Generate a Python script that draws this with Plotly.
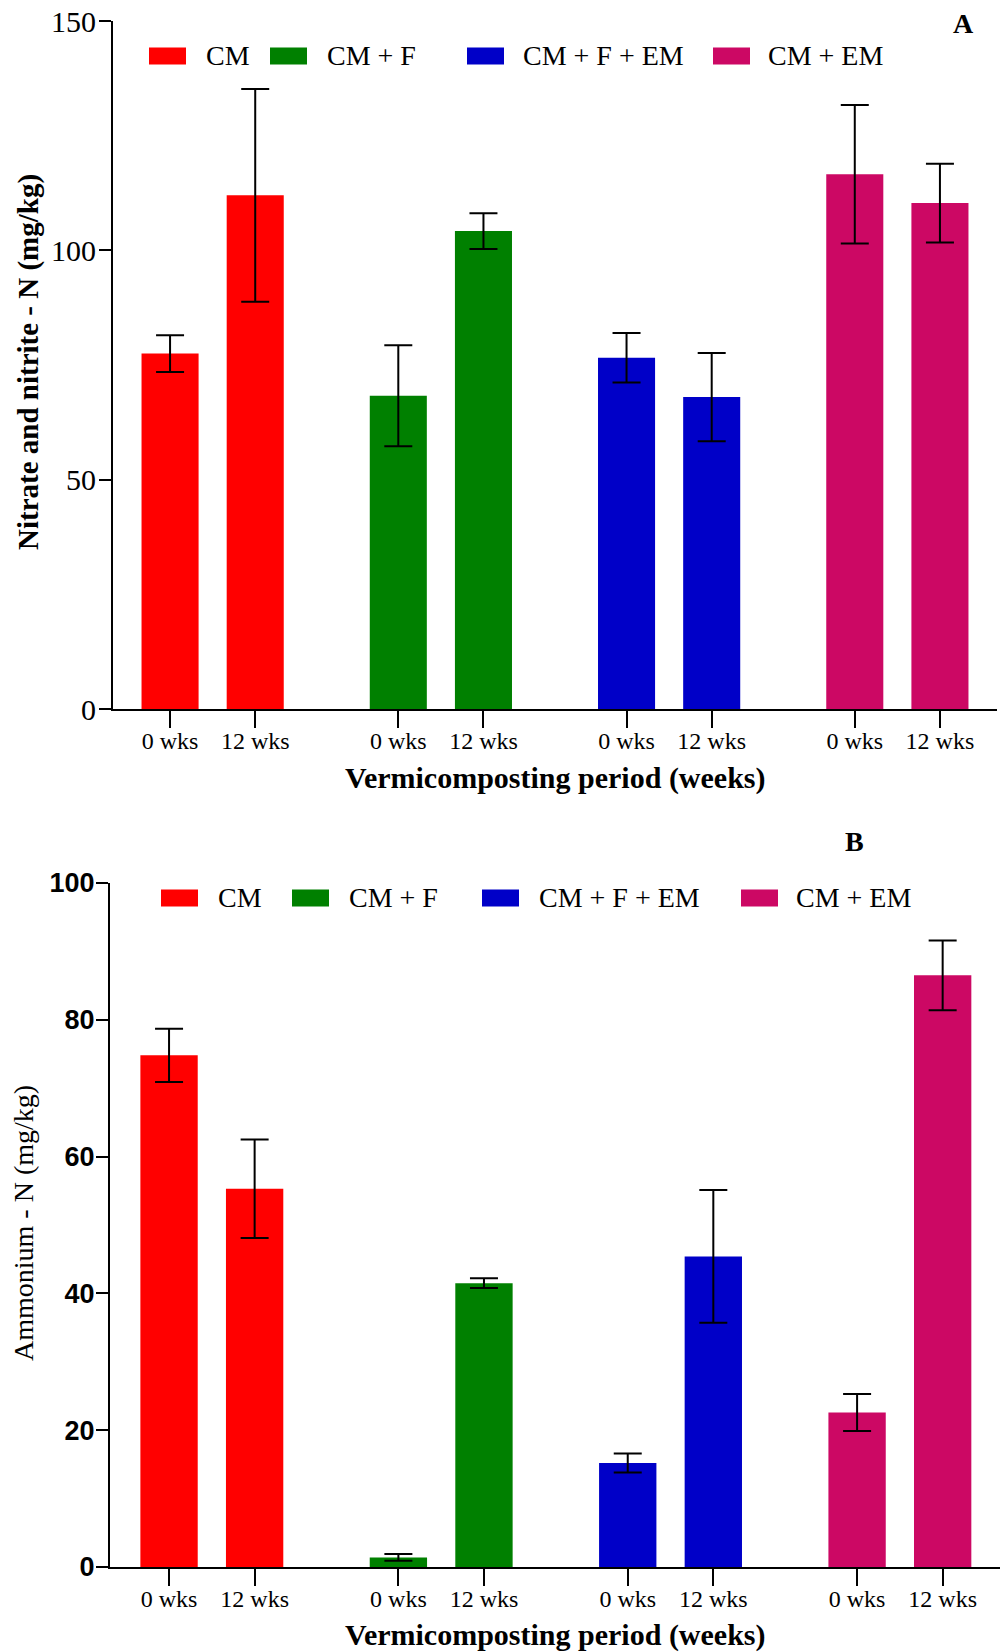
import plotly.graph_objects as go

# ---------------- data ----------------
treatments = ["CM", "CM + F", "CM + F + EM", "CM + EM"]
periods = ["0 wks", "12 wks"]
colors = ["#FF0000", "#008000", "#0000C8", "#CC0864"]

# Panel A: Nitrate and nitrite - N (mg/kg), per treatment [0 wks, 12 wks]
nitrate_mean = {
    "CM": [77.5, 112.0],
    "CM + F": [68.3, 104.2],
    "CM + F + EM": [76.6, 68.0],
    "CM + EM": [116.6, 110.3],
}
nitrate_err = {
    "CM": [4.0, 23.2],
    "CM + F": [11.0, 3.9],
    "CM + F + EM": [5.4, 9.6],
    "CM + EM": [15.1, 8.6],
}

# Panel B: Ammonium - N (mg/kg)
ammonium_mean = {
    "CM": [74.8, 55.3],
    "CM + F": [1.4, 41.5],
    "CM + F + EM": [15.2, 45.4],
    "CM + EM": [22.6, 86.5],
}
ammonium_err = {
    "CM": [3.9, 7.2],
    "CM + F": [0.5, 0.7],
    "CM + F + EM": [1.4, 9.7],
    "CM + EM": [2.7, 5.1],
}

W, H = 1008, 1652
OFF = 8  # page body margin
GROUP_STEP = 2.68
BAR_W = 0.67

def xpos(g, k):
    return g * GROUP_STEP + k

tickvals = [xpos(g, k) for g in range(len(treatments)) for k in range(len(periods))]
ticktext = [p for _ in treatments for p in periods]

fig = go.Figure()

for panel, (means, errs) in enumerate([(nitrate_mean, nitrate_err), (ammonium_mean, ammonium_err)]):
    xa = "x" if panel == 0 else "x2"
    ya = "y" if panel == 0 else "y2"
    for g, t in enumerate(treatments):
        fig.add_trace(go.Bar(
            x=[xpos(g, k) for k in range(len(periods))],
            y=means[t],
            width=BAR_W,
            marker=dict(color=colors[g], line=dict(width=0)),
            error_y=dict(type="data", array=errs[t], visible=True,
                         color="black", thickness=2, width=14),
            name=t, showlegend=False, xaxis=xa, yaxis=ya,
        ))

def px(x):
    return (x - OFF) / W

def py(y):
    return 1 - (y - OFF) / H

serif = "Liberation Serif, Times New Roman, serif"
sans = "Liberation Sans, Arial, sans-serif"

common_x = dict(
    tickmode="array", tickvals=tickvals, ticktext=ticktext,
    showline=True, linecolor="black", linewidth=2,
    ticks="outside", ticklen=17, tickwidth=2, tickcolor="black",
    showgrid=False, zeroline=False, automargin=False,
    ticklabelstandoff=-8, ticklabeloverflow="allow",
    tickfont=dict(family=serif, size=24, color="black"),
)
common_y = dict(
    showline=True, linecolor="black", linewidth=2,
    ticks="outside", ticklen=12, tickwidth=2, tickcolor="black",
    showgrid=False, zeroline=False, automargin=False,
    ticklabeloverflow="allow",
)

fig.update_layout(
    width=W, height=H,
    margin=dict(l=0, r=0, t=0, b=0),
    paper_bgcolor="white", plot_bgcolor="white",
    barmode="overlay",
    xaxis=dict(domain=[px(113), px(997)], range=[-0.67, 9.71], anchor="y", **common_x),
    yaxis=dict(domain=[py(709), py(21)], range=[0, 150], tickvals=[0, 50, 100, 150],
               anchor="x", ticklabelstandoff=-3,
               tickfont=dict(family=serif, size=30, color="black"), **common_y),
    xaxis2=dict(domain=[px(110), px(1000)], range=[-0.69, 9.71], anchor="y2", **common_x),
    yaxis2=dict(domain=[py(1567), py(883)], range=[0, 100], tickvals=[0, 20, 40, 60, 80, 100],
                anchor="x2", ticklabelstandoff=-4,
                tickfont=dict(family=sans, size=27, color="black", weight="bold"), **common_y),
)

ann = []
shapes = []

def txt(text, x, y, size, family=serif, angle=0, xanchor="center"):
    return dict(text=text, x=px(x), y=py(y), xref="paper", yref="paper",
                xanchor=xanchor, yanchor="middle", showarrow=False, textangle=angle,
                font=dict(family=family, size=size, color="black"))

# axis titles
ann.append(txt("<b>Vermicomposting period (weeks)</b>", 555, 778, 30))
ann.append(txt("<b>Vermicomposting period (weeks)</b>", 555, 1635, 30))
ann.append(txt("<b>Nitrate and nitrite - N (mg/kg)</b>", 28, 362, 29, angle=-90))
ann.append(txt("Ammonium - N (mg/kg)", 23, 1223, 28, angle=-90))
# panel letters
ann.append(txt("<b>A</b>", 963, 23, 28))
ann.append(txt("<b>B</b>", 854, 841, 28))

# legends (drawn manually)
legA_sw = [149, 270, 467, 713]
legA_tx = [206, 327, 523, 768]
legB_sw = [161, 292, 482, 741]
legB_tx = [218, 349, 539, 796]
for sw, tx, yc in [(legA_sw, legA_tx, 56), (legB_sw, legB_tx, 898)]:
    for i, t in enumerate(treatments):
        shapes.append(dict(type="rect", xref="paper", yref="paper",
                           x0=px(sw[i]), x1=px(sw[i] + 37), y0=py(yc + 8.5), y1=py(yc - 8.5),
                           fillcolor=colors[i], line=dict(width=0)))
        ann.append(txt(t, tx[i] - 2, yc, 28, xanchor="left"))

fig.update_layout(annotations=ann, shapes=shapes)

fig.write_html("out.html")
